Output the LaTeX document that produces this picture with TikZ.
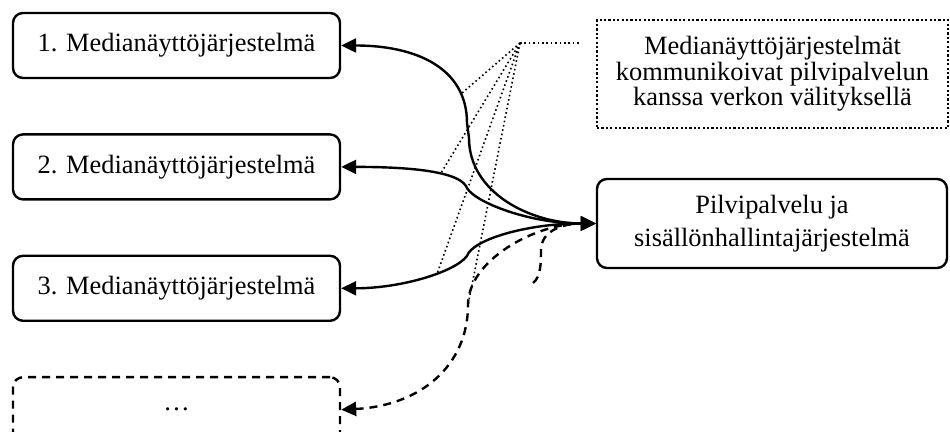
\documentclass[tikz,border=0pt]{standalone}
\usepackage{fontspec}
\setmainfont{Liberation Serif}
\usetikzlibrary{arrows.meta,positioning}

\begin{document}
\begin{tikzpicture}[x=0.5pt, y=-0.5pt, every node/.style={font=\fontsize{13.2}{12.8}\selectfont}]
\tikzset{mbox/.style={draw, rounded corners=5pt, line width=1.2pt, minimum width=163.5pt, minimum height=32.5pt}}
\tikzset{link/.style={line width=1.2pt, {Triangle[length=7.5pt,width=7pt]}-{Triangle[length=7.5pt,width=7pt]}}}
\tikzset{pointer/.style={line width=0.8pt, dash pattern=on 0.8pt off 1.4pt}}
\useasboundingbox (0,0) rectangle (950,432);
% media display systems
\node[mbox] (m1) at (176.5,45.5) {1. Medianäyttöjärjestelmä};
\node[mbox, below=27pt of m1] (m2) {2. Medianäyttöjärjestelmä};
\node[mbox, below=27pt of m2] (m3) {3. Medianäyttöjärjestelmä};
\node[mbox, below=27pt of m3, dash pattern=on 4pt off 3pt] (m4) {…};
% cloud service and note
\node[mbox, minimum width=175pt, minimum height=44.5pt, align=center,
  font=\fontsize{13.2}{16.5}\selectfont] (cloud) at (772,223.5) {Pilvipalvelu ja\\sisällönhallintajärjestelmä};
\node[draw, line width=1.1pt, dash pattern=on 1.1pt off 1.1pt, minimum width=175.5pt, minimum height=54pt,
  align=center] (note) at (772.5,74) {Medianäyttöjärjestelmät\\kommunikoivat pilvipalvelun\\kanssa verkon välityksellä};
\coordinate (k1) at (467,123);
\coordinate (k1b) at (469,138);
\coordinate (k2) at (466,186);
\coordinate (k3) at (467,256);
\coordinate (k4) at (468,305);
\coordinate (s0) at (533,283);
\coordinate (s1) at (541,250);
\coordinate (hub) at (520,43);
\draw[link] (m1.east) .. controls +(75,0) and +(0,-55) .. coordinate[pos=0.8] (d1) (k1) -- (k1b)
  .. controls +(0,55) and +(-65,0) .. (cloud.west);
\draw[link] (m2.east) .. controls +(60,0) and +(-10,-16) .. coordinate[pos=0.65] (d2) (k2)
  .. controls +(4,14) and +(-70,0) .. (cloud.west);
\draw[link] (m3.east) .. controls +(60,0) and +(-12,16) .. coordinate[pos=0.62] (d3) (k3)
  .. controls +(5,-16) and +(-70,0) .. (cloud.west);
\draw[link, dash pattern=on 4pt off 3pt] (m4.east) .. controls +(80,-4) and +(0,60) .. (k4)
  .. controls +(0,-45) and +(-60,0) .. (cloud.west);
\draw[line width=1.2pt, dash pattern=on 4pt off 3pt, -{Triangle[length=7.5pt,width=7pt]}] (s0) .. controls +(8,-6) and +(0,12) .. (s1)
  .. controls +(0,-18) and +(-35,0) .. (cloud.west);
% pointers from the note
\draw[pointer, shorten >=8pt] (hub) -- (hub -| note.west);
\draw[pointer] (hub) -- (d1);
\draw[pointer] (hub) -- (d2);
\draw[pointer] (hub) -- (d3);
\draw[pointer] (hub) -- (k4);
\end{tikzpicture}
\end{document}
